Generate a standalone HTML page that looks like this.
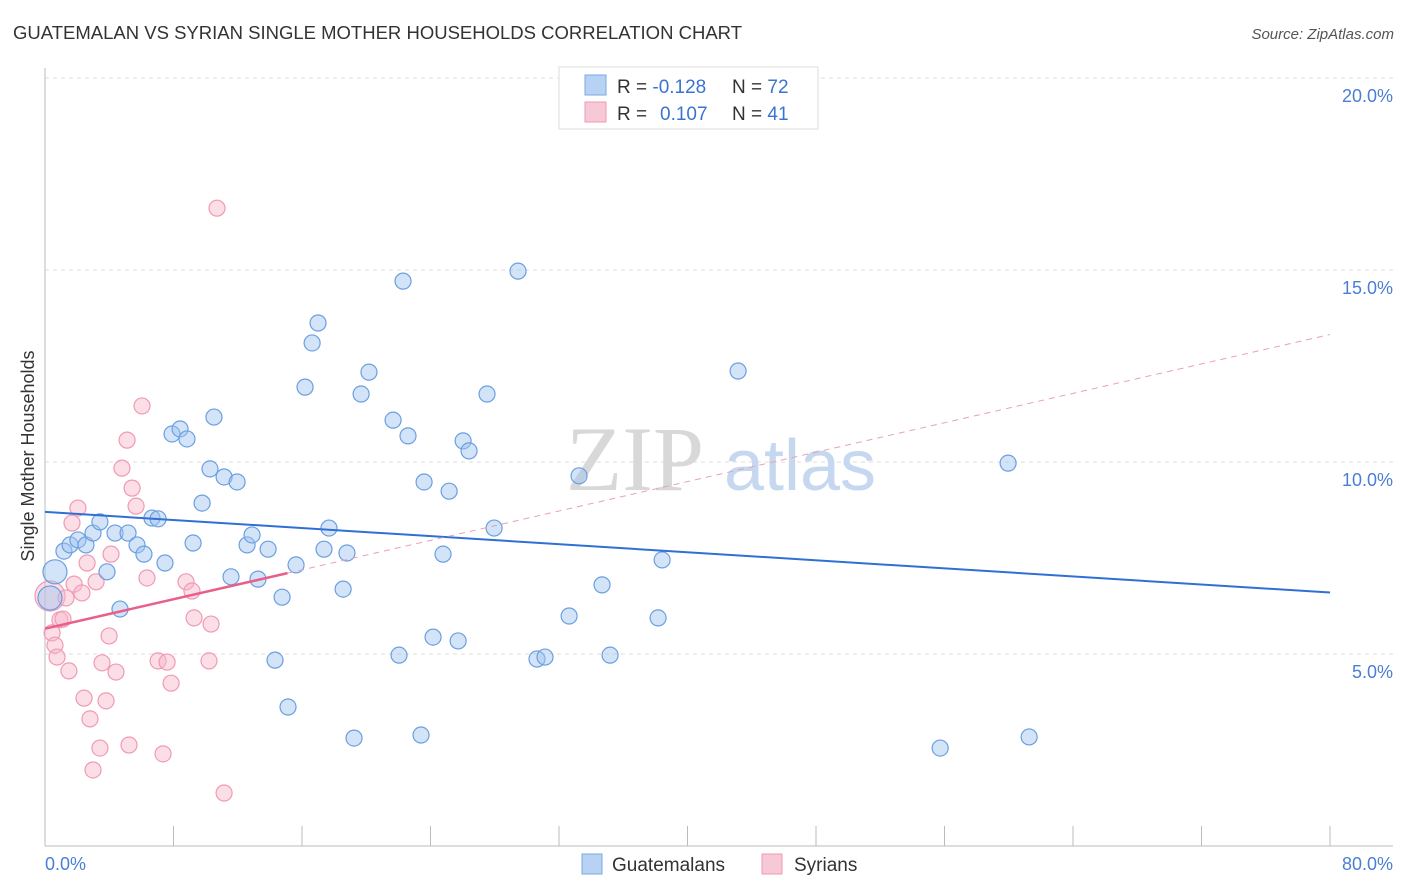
<!DOCTYPE html>
<html><head><meta charset="utf-8"><style>
body{margin:0;background:#fff;font-family:"Liberation Sans",sans-serif;}
svg{display:block}
</style></head><body>
<svg width="1406" height="892" viewBox="0 0 1406 892">
<text x="13" y="39" font-size="18.5" fill="#333" textLength="729">GUATEMALAN VS SYRIAN SINGLE MOTHER HOUSEHOLDS CORRELATION CHART</text>
<text x="1394" y="39" font-size="15" fill="#555" font-style="italic" text-anchor="end">Source: ZipAtlas.com</text>
<g id="grid"></g>
<g>
<text x="635" y="490" font-size="92" font-family="Liberation Serif,serif" fill="#d8d8d8" text-anchor="middle">ZIP</text>
<text x="800" y="490" font-size="72" fill="#c6d8f0" text-anchor="middle">atlas</text>
</g>
<line x1="45" y1="68" x2="45" y2="846" stroke="#bbb"/>
<line x1="45" y1="846" x2="1393" y2="846" stroke="#bbb"/>
<g id="xticks"></g>
<g id="pts"></g>
<g id="trend"></g>
<text transform="translate(34,456) rotate(-90)" font-size="18" fill="#333" text-anchor="middle">Single Mother Households</text>
<text x="45" y="870" font-size="18" fill="#4a7fd4">0.0%</text>
<text x="1393" y="870" font-size="18" fill="#4a7fd4" text-anchor="end">80.0%</text>
<g>
<rect x="559" y="67" width="259" height="62" fill="#fff" stroke="#ddd"/>
<rect x="585" y="75" width="21" height="20" fill="#b8d2f4" stroke="#7aa8e4"/>
<rect x="585" y="102" width="21" height="20" fill="#f9c8d6" stroke="#ee9ab4"/>
<text x="617" y="93" font-size="19" fill="#333">R = <tspan fill="#3a74d0">-0.128</tspan><tspan x="732">N = </tspan><tspan fill="#3a74d0">72</tspan></text>
<text x="617" y="120" font-size="19" fill="#333">R = <tspan x="660" fill="#3a74d0">0.107</tspan><tspan x="732">N = </tspan><tspan fill="#3a74d0">41</tspan></text>
</g>
<g>
<rect x="582" y="854" width="20" height="20" fill="#b8d2f4" stroke="#7aa8e4"/>
<text x="612" y="871" font-size="19" fill="#333">Guatemalans</text></g>
<g>
<rect x="762" y="854" width="20" height="20" fill="#f9c8d6" stroke="#ee9ab4"/>
<text x="794" y="871" font-size="19" fill="#333">Syrians</text></g>
</svg>
<script>
const yTicks=[5,10,15,20];
const yTickLabels=["5.0%","10.0%","15.0%","20.0%"];
const xTickVals=[8,16,24,32,40,48,56,64,72,80];
const blueX=[0.62,0.31,1.18,1.56,2.05,2.55,2.99,3.42,3.86,4.36,4.67,5.17,5.73,6.16,6.66,7.04,7.47,7.91,8.41,8.84,9.22,9.78,10.27,10.52,11.15,11.58,11.96,12.58,12.89,13.26,13.89,14.32,14.76,15.13,15.63,16.19,16.63,17.00,17.37,17.68,18.56,18.80,19.24,19.68,20.17,21.67,22.04,22.29,22.60,23.41,23.60,24.16,24.78,25.16,25.72,26.03,26.40,27.52,27.96,29.45,30.63,31.13,32.63,33.25,34.68,35.18,38.17,38.42,43.15,55.73,59.96,61.27];
const blueY=[7.14,6.46,7.68,7.84,7.97,7.84,8.15,8.44,7.14,8.15,6.17,8.15,7.84,7.60,8.54,8.52,7.37,10.73,10.86,10.60,7.89,8.93,9.82,11.17,9.61,7.01,9.48,7.84,8.10,6.95,7.73,4.84,6.48,3.62,7.32,11.95,13.10,13.62,7.73,8.28,6.69,7.63,2.81,11.77,12.34,11.09,4.97,14.71,10.68,2.89,9.48,5.44,7.60,9.24,5.34,10.55,10.29,11.77,8.28,14.97,4.87,4.92,5.99,9.64,6.80,4.97,5.94,7.45,12.37,2.55,9.97,2.84];
const pinkX=[0.31,0.44,0.62,0.75,0.93,1.12,1.31,1.49,1.68,1.81,2.05,2.30,2.43,2.62,2.80,2.99,3.18,3.42,3.55,3.80,3.99,4.11,4.42,4.79,5.11,5.23,5.42,5.67,6.04,6.35,7.04,7.35,7.60,7.85,8.78,9.15,9.28,10.21,10.34,10.71,11.15];
const pinkY=[6.51,5.55,5.23,4.92,5.89,5.91,6.46,4.56,8.41,6.82,8.80,6.59,3.85,7.37,3.31,1.98,6.88,2.55,4.77,3.78,5.47,7.60,4.53,9.84,10.57,2.63,9.32,8.85,11.46,6.98,4.82,2.40,4.79,4.24,6.88,6.64,5.94,4.82,5.78,16.61,1.38];
const blueTrend=[8.7,6.6];
const pinkTrend=[5.66,13.32];
const pinkSolidEnd=15.1;
const NS="http://www.w3.org/2000/svg";
const sx=v=>45+v*1285/80, sy=v=>846-v*38.4;
function mk(t,a,p){const e=document.createElementNS(NS,t);for(const k in a)e.setAttribute(k,a[k]);p.appendChild(e);return e;}
const grid=document.getElementById('grid');
yTicks.forEach((v,i)=>{
 const l=mk('line',{x1:45,x2:1393,y1:sy(v),y2:sy(v),stroke:'#ddd','stroke-dasharray':'4,4'},grid);
 
 
 const t=mk('text',{x:1393,y:sy(v)+24,'font-size':18,fill:'#4a7fd4','text-anchor':'end'},grid);
 t.textContent=yTickLabels[i];
 
 
});
const xt=document.getElementById('xticks');
xTickVals.forEach(v=>{
 const l=mk('line',{x1:sx(v),x2:sx(v),y1:826,y2:846,stroke:'#bbb'},xt);
 
 
});
const pts=document.getElementById('pts');
pinkX.forEach((x,i)=>{
 const c=mk('circle',{cx:sx(x),cy:sy(pinkY[i]),r:i==0?15:8,fill:'rgba(248,182,202,0.45)',stroke:'#f09ab4','stroke-width':1.2},pts);
 
 
});
blueX.forEach((x,i)=>{
 const c=mk('circle',{cx:sx(x),cy:sy(blueY[i]),r:i<2?12:8,fill:'rgba(160,196,240,0.45)',stroke:'#6a9fe0','stroke-width':1.2},pts);
 
 
});
const tr=document.getElementById('trend');
const pf=v=>pinkTrend[0]+(pinkTrend[1]-pinkTrend[0])*v/80;
let a=mk('line',{x1:sx(0),y1:sy(blueTrend[0]),x2:sx(80),y2:sy(blueTrend[1]),stroke:'#2f6fd6','stroke-width':2},tr);


let b=mk('line',{x1:sx(pinkSolidEnd),y1:sy(pf(pinkSolidEnd)),x2:sx(80),y2:sy(pf(80)),stroke:'#e8a0b8','stroke-width':1,'stroke-dasharray':'6,5'},tr);


let c=mk('line',{x1:sx(0),y1:sy(pf(0)),x2:sx(pinkSolidEnd),y2:sy(pf(pinkSolidEnd)),stroke:'#e8608a','stroke-width':2.5},tr);


</script>
</body></html>
